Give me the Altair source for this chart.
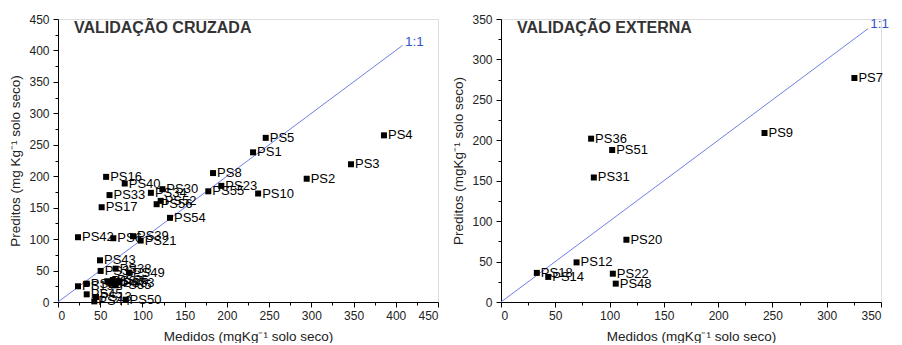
import altair as alt
import pandas as pd

# ---- Validação cruzada (left panel) ----
cv_labels = ["PS5", "PS1", "PS4", "PS3", "PS2", "PS10", "PS8", "PS23", "PS55",
             "PS16", "PS40", "PS33", "PS17", "PS34", "PS30", "PS52", "PS56", "PS54",
             "PS42", "PS6", "PS39", "PS21",
             "PS43", "PS37", "PS38", "PS49", "PS19", "PS15", "PS45", "PS13", "PS44",
             "PS27", "PS47", "PS35", "PS26", "PS53", "PS50"]
cv_medidos = [246, 231, 386, 347, 294.5, 237, 183.6, 193.4, 178,
              57, 79, 61, 51.7, 110, 123.6, 121.6, 116.8, 132.6,
              23.7, 65.5, 88.8, 97.9,
              49.7, 50.5, 68.3, 84, 23.7, 34, 34, 45, 43,
              58.4, 62.4, 68.3, 65, 72, 80]
cv_preditos = [261, 238, 265, 219, 196, 172.5, 205, 184.7, 176,
               199, 188.4, 170, 150.7, 173.6, 179.4, 160.8, 155.5, 133.8,
               103, 101.4, 104.6, 97.7,
               66.3, 49.4, 53, 46.7, 25, 29.2, 12.2, 8, 1,
               33, 30, 26.5, 35, 31, 3.7]

# ---- Validação externa (right panel) ----
ext_labels = ["PS7", "PS9", "PS36", "PS51", "PS31", "PS20", "PS12", "PS22",
              "PS48", "PS18", "PS14"]
ext_medidos = [325.5, 242.7, 83, 102.4, 85.5, 115.5, 69.6, 103, 105.7, 33, 43.5]
ext_preditos = [277, 209, 202, 188, 154, 77, 49, 35, 22.7, 36, 31]

cv_ticks = list(range(0, 451, 25))
ext_ticks = list(range(0, 351, 25))

cv_line = [0, 408]
ext_line = [0, 338]
cv_one_label = (411, 414)
ext_one_label = (340, 344)

FONT = "Liberation Sans"
BLUE_LINE = "#6f7fe0"
BLUE_TEXT = "#3355cc"


def axis(ticks, title, label_pad, title_pad):
    return alt.Axis(
        values=ticks,
        labelExpr="datum.value % 50 === 0 ? datum.label : ''",
        tickSize={"condition": {"test": "datum.value % 50 === 0", "value": 5}, "value": 3},
        title=title,
        grid=False,
        domainColor="black",
        tickColor="black",
        labelColor="#222222",
        labelFont=FONT,
        labelFontSize=12,
        titleFont=FONT,
        titleFontSize=13.5,
        titleFontWeight="normal",
        titleColor="#222222",
        labelPadding=label_pad,
        titlePadding=title_pad,
    )


def panel(labels, med, pred, dmax, ticks, line_end, one_pos, title, ytitle):
    df = pd.DataFrame({"label": labels, "medido": med, "predito": pred})
    line_df = pd.DataFrame({"medido": line_end, "predito": line_end})
    one_df = pd.DataFrame({"medido": [one_pos[0]], "predito": [one_pos[1]], "t": ["1:1"]})

    xax = axis(ticks, "Medidos (mgKg⁻¹ solo seco)", 3, 8)
    yax = axis(ticks, ytitle, 4, 6)

    x = alt.X("medido:Q", scale=alt.Scale(domain=[0, dmax], nice=False), axis=xax)
    y = alt.Y("predito:Q", scale=alt.Scale(domain=[0, dmax], nice=False), axis=yax)

    line = alt.Chart(line_df).mark_line(color=BLUE_LINE, strokeWidth=1).encode(x=x, y=y)
    pts = alt.Chart(df).mark_square(size=36, color="black", opacity=1).encode(x=x, y=y)
    txt = alt.Chart(df).mark_text(align="left", baseline="middle", dx=4, fontSize=13,
                                  font=FONT, color="black").encode(x=x, y=y, text="label:N")
    one = alt.Chart(one_df).mark_text(align="left", baseline="middle", fontSize=13.5,
                                      font=FONT, color=BLUE_TEXT).encode(x=x, y=y, text="t:N")
    return alt.layer(line, pts, txt, one).properties(
        width=380, height=283,
        title=alt.TitleParams(title, anchor="start", frame="group", orient="top",
                              offset=-23, dx=16, fontSize=16, fontWeight="bold",
                              font=FONT, color="#333333"),
    )


left = panel(cv_labels, cv_medidos, cv_preditos, 450, cv_ticks, cv_line, cv_one_label,
             "VALIDAÇÃO CRUZADA", "Preditos (mg Kg⁻¹ solo seco)")
right = panel(ext_labels, ext_medidos, ext_preditos, 350, ext_ticks, ext_line, ext_one_label,
              "VALIDAÇÃO EXTERNA", "Preditos (mgKg⁻¹ solo seco)")

chart = alt.hconcat(left, right, spacing=12).properties(
    padding={"left": 0, "top": 4, "right": 0, "bottom": 0}
).configure_view(stroke=None).configure(background="white")

chart.save("out.html", embed_options={"renderer": "svg", "actions": False})
